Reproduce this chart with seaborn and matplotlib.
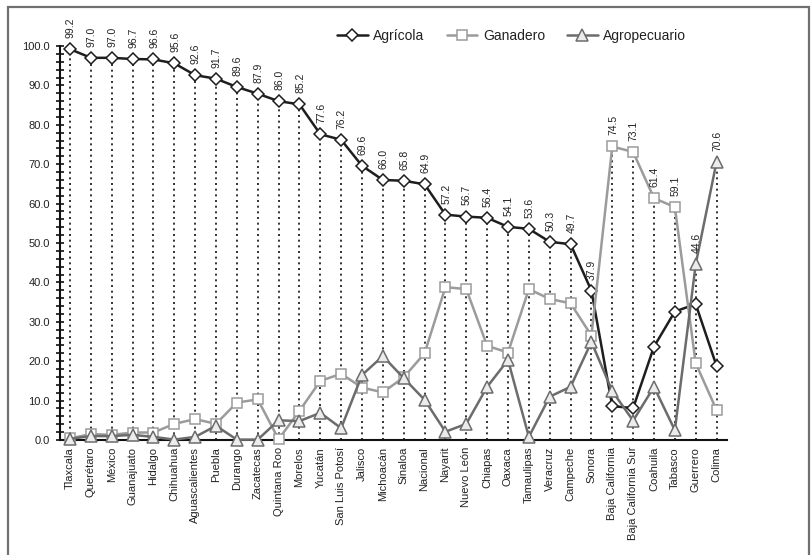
import matplotlib

matplotlib.use("Agg")
import matplotlib.pyplot as plt
import numpy as np
import pandas as pd
import seaborn as sns
from matplotlib.patches import Rectangle
from matplotlib.ticker import FormatStrFormatter, MultipleLocator


ESTADOS = [
    "Tlaxcala", "Querétaro", "México", "Guanajuato", "Hidalgo", "Chihuahua",
    "Aguascalientes", "Puebla", "Durango", "Zacatecas", "Quintana Roo",
    "Morelos", "Yucatán", "San Luis Potosí", "Jalisco", "Michoacán",
    "Sinaloa", "Nacional", "Nayarit", "Nuevo León", "Chiapas", "Oaxaca",
    "Tamaulipas", "Veracruz", "Campeche", "Sonora", "Baja California",
    "Baja California Sur", "Coahuila", "Tabasco", "Guerrero", "Colima",
]
AGRICOLA = [
    99.2, 97.0, 97.0, 96.7, 96.6, 95.6, 92.6, 91.7, 89.6, 87.9, 86.0,
    85.2, 77.6, 76.2, 69.6, 66.0, 65.8, 64.9, 57.2, 56.7, 56.4, 54.1,
    53.6, 50.3, 49.7, 37.9, 8.6, 8.1, 23.7, 32.6, 34.5, 18.8,
]
GANADERO = [
    0.4, 1.5, 1.3, 1.9, 1.9, 4.1, 5.3, 4.1, 9.5, 10.3, 0.2,
    7.4, 15.0, 16.8, 13.3, 12.1, 15.9, 22.0, 38.8, 38.3, 23.9, 22.2,
    38.3, 35.8, 34.7, 26.5, 74.5, 73.1, 61.4, 59.1, 19.5, 7.6,
]
AGROPECUARIO = [
    0.3, 1.0, 1.0, 1.3, 0.8, 0.1, 0.8, 3.6, 0.1, 0.1, 5.0,
    4.8, 6.9, 3.0, 16.5, 21.3, 15.7, 10.2, 2.1, 4.1, 13.5, 20.3,
    0.8, 11.0, 13.5, 24.9, 12.4, 4.9, 13.5, 2.5, 44.6, 70.6,
]

# one row per state
df = pd.DataFrame({
    "estado": ESTADOS,
    "pos": np.arange(len(ESTADOS)),
    "Agrícola": AGRICOLA,
    "Ganadero": GANADERO,
    "Agropecuario": AGROPECUARIO,
})
df["maximo"] = df[["Agrícola", "Ganadero", "Agropecuario"]].max(axis=1)

SERIES_STYLE = {
    "Agrícola": dict(color="#1e1e1e", marker="D", markersize=6.5,
                     markerfacecolor="white", markeredgecolor="#1e1e1e"),
    "Ganadero": dict(color="#9b9b9b", marker="s", markersize=7.5,
                     markerfacecolor="white", markeredgecolor="#9b9b9b"),
    "Agropecuario": dict(color="#6c6c6c", marker="^", markersize=8,
                         markerfacecolor="#ececec", markeredgecolor="#6c6c6c"),
}

sns.set_theme(style="white")
plt.rcParams["font.family"] = ["Liberation Sans", "DejaVu Sans"]
plt.rcParams["text.color"] = "#222222"

fig = plt.figure(figsize=(8.11, 5.55), dpi=100)
ax = fig.add_axes([0.0735, 0.2072, 0.8229, 0.7099])

# drop lines from the highest value of each state
ax.vlines(df["pos"], 0, df["maximo"], colors="#111111",
          linestyles=(0, (1.2, 2.2)), linewidth=1.2, zorder=1)

for name, style in SERIES_STYLE.items():
    sns.lineplot(data=df, x="pos", y=name, ax=ax, label=name, linewidth=1.8,
                 markeredgewidth=1.1, clip_on=False, zorder=3, **style)

# value labels over the highest point
for _, row in df.iterrows():
    ax.annotate(f"{row['maximo']:.1f}", (row["pos"], row["maximo"]),
                xytext=(0.5, 8), textcoords="offset points", rotation=90,
                ha="center", va="bottom", fontsize=7.5, color="#222222")

ax.set_xlim(-0.5, len(ESTADOS) - 0.5)
ax.set_ylim(0, 100)
ax.yaxis.set_major_locator(MultipleLocator(10))
ax.yaxis.set_minor_locator(MultipleLocator(2))
ax.yaxis.set_major_formatter(FormatStrFormatter("%.1f"))
ax.set_xticks(df["pos"], labels=ESTADOS, rotation=90)
ax.set_xticks(np.arange(len(ESTADOS) + 1) - 0.5, minor=True)
ax.tick_params(axis="x", which="major", length=0, pad=5, labelsize=8,
               labelcolor="#222222")
ax.tick_params(axis="x", which="minor", direction="inout", length=5,
               width=1.2, color="#111111")
ax.tick_params(axis="y", which="both", direction="inout", length=6,
               width=1.2, color="#111111", labelsize=8, labelcolor="#222222",
               left=True)
ax.tick_params(axis="y", which="major", pad=4)
ax.set_xlabel("")
ax.set_ylabel("")

sns.despine(ax=ax)
for side in ["left", "bottom"]:
    ax.spines[side].set_color("#111111")
    ax.spines[side].set_linewidth(1.5)

ax.legend(loc="center", bbox_to_anchor=(0.631, 0.935),
          bbox_transform=fig.transFigure, ncol=3, frameon=False,
          fontsize=10, handlelength=2.2, handletextpad=0.4, columnspacing=1.6)

# grey frame around the chart area
fig.patches.append(Rectangle((8 / 811, -0.05), 801 / 811, 548 / 555 + 0.05,
                             transform=fig.transFigure, fill=False,
                             edgecolor="#707070", linewidth=1.6))

fig.savefig("out.png", dpi=100)
